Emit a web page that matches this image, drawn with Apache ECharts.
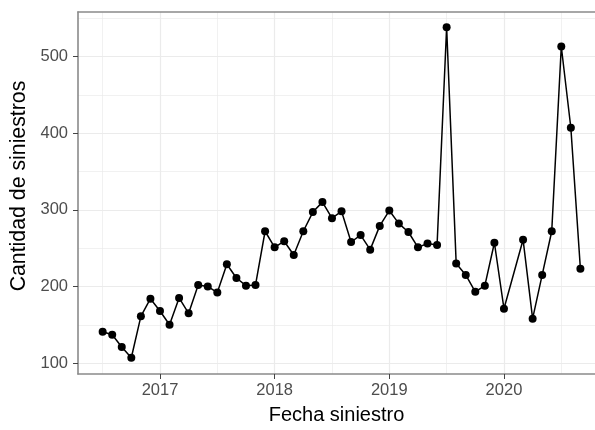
<!DOCTYPE html>
<html>
<head>
<meta charset="utf-8">
<title>Cantidad de siniestros</title>
<script src="https://cdn.jsdelivr.net/npm/echarts@6/dist/echarts.min.js"></script>
<style>
  html, body { margin: 0; padding: 0; background: #fff; }
  #chart { width: 595px; height: 430px; }
</style>
</head>
<body>
<div id="chart"></div>
<script>
// meses (año-mes), febrero 2020 no aparece en los datos
const meses = [
    '2016-07', '2016-08', '2016-09', '2016-10', '2016-11', '2016-12',
    '2017-01', '2017-02', '2017-03', '2017-04', '2017-05', '2017-06',
    '2017-07', '2017-08', '2017-09', '2017-10', '2017-11', '2017-12',
    '2018-01', '2018-02', '2018-03', '2018-04', '2018-05', '2018-06',
    '2018-07', '2018-08', '2018-09', '2018-10', '2018-11', '2018-12',
    '2019-01', '2019-02', '2019-03', '2019-04', '2019-05', '2019-06',
    '2019-07', '2019-08', '2019-09', '2019-10', '2019-11', '2019-12',
    '2020-01', '2020-03', '2020-04', '2020-05', '2020-06',
    '2020-07', '2020-08', '2020-09'
]
const siniestros = [
    141, 137, 121, 107, 161, 184,
    168, 150, 185, 165, 202, 200,
    192, 229, 211, 201, 202, 272,
    251, 259, 241, 272, 297, 310,
    289, 298, 258, 267, 248, 279,
    299, 282, 271, 251, 256, 254,
    538, 230, 215, 193, 201, 257,
    171, 261, 158, 215, 272,
    513, 407, 223
]
const xTicks = [2017, 2018, 2019, 2020]
const xMinor = [2016.5, 2017.5, 2018.5, 2019.5, 2020.5]
const yTicks = [100, 200, 300, 400, 500]
const yMinor = [150, 250, 350, 450, 550]

// fecha -> año decimal
function toYear(m) {
    const p = m.split('-')
    return Number(p[0]) + (Number(p[1]) - 1) / 12
}
const puntos = meses.map((m, i) => [toYear(m), siniestros[i]])

const font = 'Liberation Sans'
const gridColor = '#ebebeb'
const borde = { show: true, onZero: false, lineStyle: { color: '#8a8a8a', width: 1.6 } }
// el panel queda cortado por la derecha, sin borde
const xMin = 2016.285
const xMax = 2020.794
const yMin = 85.8
const yMax = 558

const chart = echarts.init(document.getElementById('chart'))
chart.setOption({
    animation: false,
    grid: {
        left: 78,
        right: 0,
        top: 12,
        bottom: 51
    },
    xAxis: [
        {
            type: 'value',
            min: xMin,
            max: xMax,
            name: 'Fecha siniestro',
            nameLocation: 'middle',
            nameGap: 31,
            nameTextStyle: { fontFamily: font, fontSize: 20, color: '#000' },
            axisLine: borde,
            axisTick: { show: true, length: 5, customValues: xTicks, lineStyle: { color: '#444' } },
            axisLabel: {
                customValues: xTicks,
                fontFamily: font,
                fontSize: 16.5,
                color: '#4d4d4d',
                margin: 8,
                formatter: v => String(v)
            },
            splitLine: { show: true, lineStyle: { color: gridColor, width: 1.2 } }
        },
        {
            // lineas menores de la rejilla + borde superior
            type: 'value',
            min: xMin,
            max: xMax,
            position: 'top',
            axisLine: borde,
            axisTick: { show: false, customValues: xMinor },
            axisLabel: { show: false, customValues: xMinor },
            splitLine: { show: true, lineStyle: { color: gridColor, width: 0.7 } }
        }
    ],
    yAxis: [
        {
            type: 'value',
            min: yMin,
            max: yMax,
            name: 'Cantidad de siniestros',
            nameLocation: 'middle',
            nameGap: 45,
            nameTextStyle: { fontFamily: font, fontSize: 21.3, color: '#000', padding: [0, 0, 0, 14] },
            axisLine: borde,
            axisTick: { show: true, length: 5, customValues: yTicks, lineStyle: { color: '#444' } },
            axisLabel: {
                customValues: yTicks,
                fontFamily: font,
                fontSize: 16.5,
                color: '#4d4d4d',
                margin: 10
            },
            splitLine: { show: true, lineStyle: { color: gridColor, width: 1.2 } }
        },
        {
            type: 'value',
            min: yMin,
            max: yMax,
            position: 'left',
            axisLine: { show: false },
            axisTick: { show: false, customValues: yMinor },
            axisLabel: { show: false, customValues: yMinor },
            splitLine: { show: true, lineStyle: { color: gridColor, width: 0.7 } }
        }
    ],
    series: [
        {
            type: 'line',
            data: puntos,
            symbol: 'circle',
            symbolSize: 8,
            lineStyle: { color: '#000', width: 1.5 },
            itemStyle: { color: '#000' }
        }
    ]
})
</script>
</body>
</html>
